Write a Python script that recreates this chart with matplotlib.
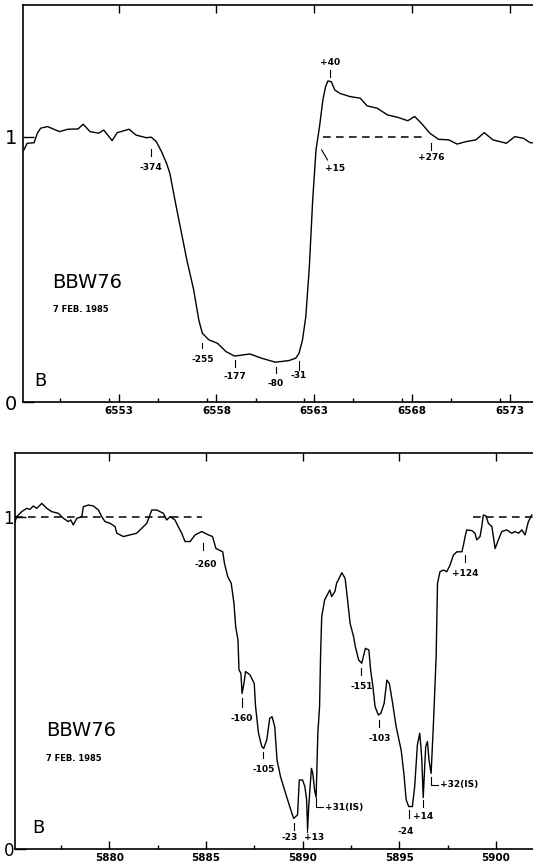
import matplotlib
matplotlib.use("Agg")
import matplotlib.pyplot as plt
from matplotlib.ticker import MultipleLocator

# ---------------- data: top panel (H-alpha) ----------------
top_wave = [6548.16, 6548.33, 6548.68, 6548.85, 6549.02, 6549.37, 6549.98, 6550.41,
            6550.93, 6551.19, 6551.54, 6551.98, 6552.24, 6552.67, 6552.93, 6553.54,
            6553.89, 6554.41, 6554.67, 6554.93, 6555.19, 6555.45, 6555.62, 6555.88,
            6556.15, 6556.49, 6556.84, 6557.10, 6557.28, 6557.62, 6558.06, 6558.49,
            6558.93, 6559.71, 6560.31, 6561.01, 6561.70, 6562.05, 6562.22, 6562.40,
            6562.57, 6562.75, 6562.92, 6563.09, 6563.27, 6563.44, 6563.58, 6563.70,
            6563.87, 6564.05, 6564.31, 6564.83, 6565.35, 6565.70, 6566.22, 6566.74,
            6567.26, 6567.78, 6568.13, 6568.48, 6568.91, 6569.35, 6569.87, 6570.30,
            6570.74, 6571.26, 6571.69, 6572.13, 6572.82, 6573.25, 6573.69, 6574.04,
            6574.20]
top_flux = [0.950, 0.975, 0.977, 1.013, 1.032, 1.038, 1.019, 1.028,
            1.029, 1.047, 1.019, 1.013, 1.025, 0.985, 1.015, 1.028,
            1.006, 0.996, 0.998, 0.981, 0.944, 0.900, 0.862, 0.761,
            0.661, 0.535, 0.422, 0.309, 0.259, 0.234, 0.221, 0.190,
            0.173, 0.181, 0.165, 0.150, 0.156, 0.165, 0.183, 0.234,
            0.322, 0.510, 0.761, 0.950, 1.038, 1.138, 1.189, 1.210,
            1.207, 1.176, 1.163, 1.151, 1.145, 1.116, 1.107, 1.082,
            1.073, 1.060, 1.076, 1.050, 1.013, 0.990, 0.988, 0.972,
            0.981, 0.988, 1.015, 0.988, 0.975, 1.000, 0.994, 0.977,
            0.977]
top_dash_wave = [6563.46, 6568.74]
top_xticks = [6553, 6558, 6563, 6568, 6573]

top_ann_labels = ["-374", "-255", "-177", "-80", "-31", "+40", "+276"]
top_ann_wave = [6554.66, 6557.28, 6558.95, 6561.03, 6562.22, 6563.80, 6568.96]
top_ann_tick_hi = [0.952, 0.224, 0.158, 0.133, 0.155, 1.251, 0.975]
top_ann_tick_lo = [0.927, 0.202, 0.133, 0.108, 0.121, 1.226, 0.950]
top_ann_text_y = [0.885, 0.161, 0.095, 0.070, 0.098, 1.279, 0.922]
top_slant_label = "+15"
top_slant_wave = [6563.38, 6563.68]
top_slant_flux = [0.950, 0.912]
top_slant_text = (6564.06, 0.881)

# ---------------- data: bottom panel (Na D) ----------------
bot_wave = [5875.12, 5875.20, 5875.46, 5875.72, 5875.89, 5876.06, 5876.24, 5876.50,
            5876.76, 5877.02, 5877.36, 5877.62, 5877.87, 5878.00, 5878.13, 5878.31,
            5878.57, 5878.65, 5878.91, 5879.17, 5879.43, 5879.60, 5879.77, 5880.03,
            5880.29, 5880.38, 5880.72, 5881.07, 5881.41, 5881.67, 5881.93, 5882.19,
            5882.45, 5882.79, 5882.96, 5883.14, 5883.39, 5883.56, 5883.74, 5883.91,
            5884.17, 5884.43, 5884.77, 5885.12, 5885.33, 5885.51, 5885.86, 5885.95,
            5886.12, 5886.30, 5886.44, 5886.53, 5886.65, 5886.70, 5886.80, 5886.86,
            5886.97, 5887.04, 5887.27, 5887.49, 5887.56, 5887.71, 5887.88, 5887.98,
            5888.14, 5888.29, 5888.41, 5888.55, 5888.67, 5888.85, 5889.11, 5889.38,
            5889.53, 5889.73, 5889.82, 5889.99, 5890.11, 5890.20, 5890.25, 5890.31,
            5890.38, 5890.45, 5890.52, 5890.61, 5890.69, 5890.78, 5890.87, 5890.92,
            5890.98, 5891.13, 5891.40, 5891.49, 5891.66, 5891.75, 5892.02, 5892.19,
            5892.28, 5892.45, 5892.63, 5892.72, 5892.89, 5893.05, 5893.24, 5893.42,
            5893.51, 5893.63, 5893.74, 5893.91, 5894.04, 5894.21, 5894.35, 5894.48,
            5894.65, 5894.83, 5895.09, 5895.23, 5895.35, 5895.48, 5895.67, 5895.79,
            5895.93, 5896.05, 5896.11, 5896.16, 5896.23, 5896.29, 5896.36, 5896.45,
            5896.53, 5896.64, 5896.76, 5896.90, 5896.97, 5897.10, 5897.27, 5897.45,
            5897.62, 5897.79, 5897.97, 5898.23, 5898.31, 5898.40, 5898.48, 5898.74,
            5898.91, 5899.00, 5899.17, 5899.26, 5899.34, 5899.48, 5899.60, 5899.78,
            5899.86, 5899.95, 5900.12, 5900.29, 5900.55, 5900.81, 5900.98, 5901.16,
            5901.33, 5901.50, 5901.67, 5901.85]
bot_flux = [0.987, 1.002, 1.017, 1.027, 1.024, 1.034, 1.027, 1.042,
            1.027, 1.017, 1.012, 0.997, 0.987, 0.992, 0.977, 0.997,
            1.002, 1.032, 1.037, 1.034, 1.022, 1.002, 0.987, 0.982,
            0.972, 0.952, 0.942, 0.947, 0.952, 0.967, 0.982, 1.022,
            1.022, 1.012, 0.992, 1.002, 0.992, 0.972, 0.952, 0.927,
            0.927, 0.947, 0.957, 0.947, 0.942, 0.906, 0.896, 0.861,
            0.821, 0.801, 0.741, 0.670, 0.630, 0.540, 0.530, 0.469,
            0.504, 0.535, 0.525, 0.499, 0.429, 0.349, 0.309, 0.303,
            0.329, 0.394, 0.399, 0.369, 0.268, 0.218, 0.168, 0.118,
            0.092, 0.103, 0.208, 0.208, 0.188, 0.148, 0.060, 0.128,
            0.188, 0.243, 0.228, 0.178, 0.156, 0.349, 0.429, 0.580,
            0.700, 0.751, 0.781, 0.761, 0.776, 0.801, 0.833, 0.816,
            0.771, 0.680, 0.640, 0.610, 0.570, 0.560, 0.605, 0.600,
            0.540, 0.489, 0.429, 0.404, 0.409, 0.439, 0.509, 0.499,
            0.439, 0.369, 0.298, 0.228, 0.148, 0.128, 0.128, 0.188,
            0.314, 0.349, 0.309, 0.268, 0.155, 0.228, 0.309, 0.324,
            0.268, 0.228, 0.379, 0.580, 0.801, 0.836, 0.841, 0.836,
            0.856, 0.886, 0.896, 0.896, 0.916, 0.942, 0.962, 0.960,
            0.952, 0.932, 0.942, 0.972, 1.007, 1.004, 0.982, 0.972,
            0.942, 0.906, 0.932, 0.957, 0.962, 0.952, 0.957, 0.952,
            0.962, 0.947, 0.987, 1.007]
bot_dash_left = [5875.13, 5884.77]
bot_dash_right = [5898.83, 5901.91]
bot_xticks = [5880, 5885, 5890, 5895, 5900]

bot_ann_labels = ["-260", "-160", "-105", "-23", "+13", "-151", "-103", "-24", "+14", "+124"]
bot_ann_wave = [5884.86, 5886.84, 5887.96, 5889.55, 5890.21, 5893.02, 5893.96, 5895.50, 5896.24, 5898.40]
bot_ann_tick_hi = [0.922, 0.454, 0.293, 0.077, 0.072, 0.545, 0.389, 0.118, 0.148, 0.886]
bot_ann_tick_lo = [0.901, 0.429, 0.273, 0.057, 0.052, 0.525, 0.369, 0.092, 0.128, 0.866]
bot_ann_text_x = [5884.98, 5886.84, 5887.96, 5889.33, 5890.60, 5893.05, 5893.96, 5895.30, 5896.24, 5898.40]
bot_ann_text_y = [0.859, 0.394, 0.240, 0.034, 0.034, 0.489, 0.334, 0.052, 0.099, 0.831]

bot_is_labels = ["+31(IS)", "+32(IS)"]
bot_is_wave = [5890.67, 5896.64]
bot_is_hi = [0.153, 0.218]
bot_is_lo = [0.126, 0.193]
bot_is_end = [5891.07, 5897.02]
bot_is_text_x = [5891.17, 5897.10]

star_name = "BBW76"
obs_date = "7 FEB. 1985"
panel_tag = "B"

# ---------------- figure ----------------
W, H = 533, 867
fig = plt.figure(figsize=(W / 100, H / 100), dpi=100)

ax1 = fig.add_axes([22.7 / W, 1 - 402 / H, 1 - 22.7 / W, (402 - 5.3) / H])
ax2 = fig.add_axes([15.3 / W, 1 - 849 / H, 1 - 15.3 / W, (849 - 453.3) / H])

LW = 1.0
ann_fs = 6.5


def style(ax, xticks, xlim, ylim, yfs, ypad):
    ax.set_xlim(*xlim)
    ax.set_ylim(*ylim)
    for s in ("top", "left", "bottom"):
        ax.spines[s].set_linewidth(1.2)
    ax.spines["right"].set_visible(False)
    ax.set_xticks(xticks)
    ax.set_xticklabels([str(t) for t in xticks], fontsize=7.5, fontweight="bold")
    ax.xaxis.set_minor_locator(MultipleLocator(2.5))
    ax.tick_params(axis="x", which="major", direction="in", length=6, width=1,
                   top=True, bottom=True, pad=3)
    ax.tick_params(axis="x", which="minor", direction="in", length=3, width=1,
                   top=False, bottom=True)
    ax.set_yticks([0, 1])
    ax.set_yticklabels(["0", "1"], fontsize=yfs)
    ax.tick_params(axis="y", which="major", direction="in", length=8, width=1,
                   left=True, right=False, pad=ypad)


# ---- top panel ----
ax1.plot(top_wave, top_flux, color="black", lw=LW)
ax1.plot(top_dash_wave, [1, 1], color="black", lw=1.1, ls=(0, (5, 3.5)))
for lab, w, hi, lo, ty in zip(top_ann_labels, top_ann_wave, top_ann_tick_hi,
                              top_ann_tick_lo, top_ann_text_y):
    ax1.plot([w, w], [lo, hi], color="black", lw=0.8)
    ax1.text(w, ty, lab, ha="center", va="center", fontsize=ann_fs, fontweight="bold")
ax1.plot(top_slant_wave, top_slant_flux, color="black", lw=0.8)
ax1.text(top_slant_text[0], top_slant_text[1], top_slant_label, ha="center",
         va="center", fontsize=ann_fs, fontweight="bold")
style(ax1, top_xticks, (6548.10, 6574.18), (0, 1.495), 14, 4)
ax1.text(0.057, 0.301, star_name, transform=ax1.transAxes, fontsize=14,
         ha="left", va="center")
ax1.text(0.060, 0.234, obs_date, transform=ax1.transAxes, fontsize=6,
         fontweight="bold", ha="left", va="center")
ax1.text(0.022, 0.052, panel_tag, transform=ax1.transAxes, fontsize=13,
         ha="left", va="center")

# ---- bottom panel ----
ax2.plot(bot_wave, bot_flux, color="black", lw=LW)
ax2.plot(bot_dash_left, [1, 1], color="black", lw=1.1, ls=(0, (5, 3.5)))
ax2.plot(bot_dash_right, [1, 1], color="black", lw=1.1, ls=(0, (5, 3.5)))
for lab, w, hi, lo, tx, ty in zip(bot_ann_labels, bot_ann_wave, bot_ann_tick_hi,
                                  bot_ann_tick_lo, bot_ann_text_x, bot_ann_text_y):
    ax2.plot([w, w], [lo, hi], color="black", lw=0.8)
    ax2.text(tx, ty, lab, ha="center", va="center", fontsize=ann_fs, fontweight="bold")
for lab, w, hi, lo, we, tx in zip(bot_is_labels, bot_is_wave, bot_is_hi, bot_is_lo,
                                  bot_is_end, bot_is_text_x):
    ax2.plot([w, w, we], [hi, lo, lo], color="black", lw=0.8)
    ax2.text(tx, lo, lab, ha="left", va="center", fontsize=ann_fs, fontweight="bold")
style(ax2, bot_xticks, (5875.13, 5901.91), (0, 1.193), 12, 1)
ax2.text(0.059, 0.299, star_name, transform=ax2.transAxes, fontsize=14,
         ha="left", va="center")
ax2.text(0.059, 0.229, obs_date, transform=ax2.transAxes, fontsize=6,
         fontweight="bold", ha="left", va="center")
ax2.text(0.033, 0.052, panel_tag, transform=ax2.transAxes, fontsize=13,
         ha="left", va="center")

fig.savefig("out.png", dpi=100)
